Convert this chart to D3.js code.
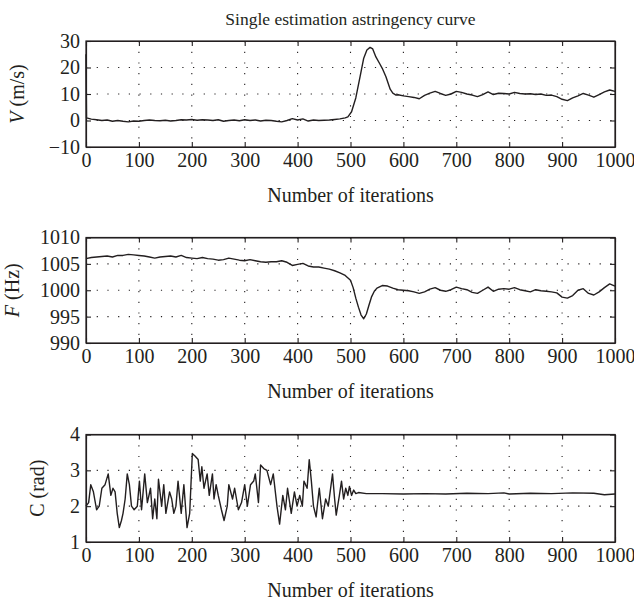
<!DOCTYPE html>
<html>
<head>
<meta charset="utf-8">
<script src="https://cdn.jsdelivr.net/npm/d3@7"></script>
<style>
	body { margin: 0; background: #fff; }
	text { font-family: "Liberation Serif", "DejaVu Serif", serif; fill: #231f20; }
</style>
</head>
<body>
<div id="chart"></div>
<script>

// x ticks shared by the three panels
var iterTicks = [0, 100, 200, 300, 400, 500, 600, 700, 800, 900, 1000];

// V panel (velocity estimate)
var vTicks = [-10, 0, 10, 20, 30];
var vIter = [0, 1, 10, 20, 30, 40, 50, 60, 70, 80, 90, 100, 110, 120, 130, 140, 150, 160, 170, 180,
	190, 200, 210, 220, 230, 240, 250, 260, 270, 280, 290, 300, 310, 320, 330, 340, 350, 360, 370, 380,
	390, 400, 410, 420, 430, 440, 450, 460, 470, 480, 490, 495, 502, 510, 518, 525, 531, 537, 542, 548,
	555, 560, 567, 575, 580, 586, 590, 600, 610, 620, 630, 640, 650, 660, 670, 680, 690, 700, 710, 720,
	730, 740, 750, 760, 770, 780, 790, 800, 810, 820, 830, 840, 850, 860, 870, 880, 890, 900, 910, 920,
	930, 940, 950, 960, 970, 980, 990, 1000];
var vValues = [25, 1.0, 0.5, 0.3, 0.0, 0.2, -0.3, 0.0, -0.3, -0.5, -0.2, -0.3, 0.0, 0.2, 0.0, -0.1, 0.1, -0.2, 0.0, 0.3,
	0.2, 0.4, 0.1, 0.3, 0.2, 0.0, 0.3, -0.3, 0.0, 0.2, -0.1, 0.3, 0.0, 0.2, -0.2, 0.1, 0.0, -0.3, -0.5, 0.0,
	0.7, 0.2, 0.6, -0.2, 0.2, 0.0, 0.1, 0.2, 0.4, 0.6, 1.0, 1.4, 3.3, 8.5, 16.5, 23.5, 26.6, 27.6, 27.0, 24.0,
	21.5, 19.7, 16.5, 11.8, 10.3, 9.6, 9.7, 9.3, 9.0, 8.7, 8.2, 9.5, 10.3, 11.0, 10.2, 9.5, 10.0, 11.0, 10.6, 10.0,
	9.6, 9.0, 9.8, 10.8, 9.8, 10.3, 10.2, 10.0, 10.6, 10.2, 10.0, 10.1, 9.8, 10.0, 9.5, 9.6, 9.0, 8.0, 7.5, 8.5,
	9.3, 10.2, 9.6, 8.8, 9.8, 10.8, 11.5, 11.0];

// F panel (frequency estimate)
var fTicks = [990, 995, 1000, 1005, 1010];
var fIter = [0, 10, 20, 30, 40, 50, 60, 70, 80, 90, 100, 110, 120, 130, 140, 150, 160, 170, 180, 190,
	200, 210, 220, 230, 240, 250, 260, 270, 280, 290, 300, 310, 320, 330, 340, 350, 360, 370, 380, 390,
	400, 410, 420, 430, 440, 450, 460, 470, 480, 490, 500, 505, 510, 515, 520, 525, 530, 535, 540, 545,
	550, 560, 570, 580, 590, 600, 610, 620, 630, 640, 650, 660, 670, 680, 690, 700, 710, 720, 730, 740,
	750, 760, 770, 780, 790, 800, 810, 820, 830, 840, 850, 860, 870, 880, 890, 900, 910, 920, 930, 940,
	950, 960, 970, 980, 990, 1000];
var fValues = [1006.0, 1006.2, 1006.3, 1006.4, 1006.5, 1006.3, 1006.6, 1006.6, 1006.8, 1006.7, 1006.6, 1006.5, 1006.3, 1006.1, 1006.3, 1006.4, 1006.5, 1006.3, 1006.6, 1006.2,
	1006.1, 1006.0, 1006.2, 1006.0, 1005.9, 1005.7, 1005.8, 1006.1, 1005.9, 1005.7, 1005.6, 1005.8, 1005.6, 1005.4, 1005.3, 1005.4, 1005.4, 1005.6, 1005.3, 1004.7,
	1004.9, 1005.1, 1004.6, 1004.4, 1004.4, 1004.2, 1004.0, 1003.7, 1003.3, 1002.8, 1001.9, 1000.5, 998.5, 996.8, 995.3, 994.6, 995.5, 997.2, 998.8, 999.8,
	1000.4, 1000.9, 1000.8, 1000.4, 1000.1, 1000.0, 999.9, 999.7, 999.4, 999.7, 1000.2, 1000.5, 1000.0, 999.8, 1000.1, 1000.6, 1000.3, 1000.1, 999.6, 999.4,
	1000.0, 1000.6, 999.8, 1000.2, 1000.3, 1000.2, 1000.5, 1000.1, 999.9, 999.7, 1000.1, 999.9, 999.8, 999.7, 999.5, 998.7, 998.5, 999.0, 1000.0, 1000.3,
	999.4, 999.1, 999.7, 1000.5, 1001.2, 1000.8];

// C panel (phase estimate)
var cTicks = [1, 2, 3, 4];
var cIter = [0, 5, 9, 14, 20, 25, 30, 36, 42, 47, 51, 55, 59, 63, 67, 70, 74, 78, 82, 86,
	91, 97, 101, 105, 111, 116, 122, 126, 130, 134, 137, 143, 147, 151, 158, 162, 166, 170, 174, 180,
	185, 191, 196, 201, 206, 212, 216, 219, 223, 229, 233, 239, 242, 246, 250, 256, 261, 267, 270, 277,
	281, 288, 294, 300, 305, 311, 317, 320, 326, 330, 336, 342, 349, 354, 361, 366, 372, 377, 381, 388,
	394, 399, 404, 409, 412, 418, 422, 426, 430, 435, 441, 447, 453, 458, 466, 470, 473, 479, 483, 487,
	491, 495, 498, 502, 506, 510, 515, 530, 560, 600, 640, 680, 720, 760, 790, 800, 840, 880, 920, 960,
	980, 1000];
var cValues = [2.0, 2.1, 2.6, 2.4, 1.9, 2.0, 2.5, 2.6, 2.9, 2.3, 2.5, 2.4, 1.8, 1.4, 1.6, 1.8, 2.2, 2.9, 2.6, 2.0,
	1.9, 2.0, 2.7, 1.9, 2.9, 2.1, 2.5, 1.65, 2.2, 1.65, 2.75, 2.0, 2.6, 1.8, 2.4, 2.2, 1.8, 2.0, 2.7, 1.8,
	2.6, 1.4, 1.8, 3.47, 3.4, 3.3, 2.7, 3.1, 2.5, 2.9, 2.3, 2.9, 2.2, 2.6, 2.3, 1.9, 1.6, 2.0, 2.6, 2.2,
	2.5, 1.9, 2.1, 2.6, 2.0, 2.6, 2.7, 2.9, 2.1, 3.15, 3.05, 3.0, 2.6, 2.9, 2.0, 1.5, 2.3, 1.9, 2.5, 1.8,
	2.4, 2.0, 2.3, 2.0, 2.7, 2.5, 3.3, 2.7, 2.0, 1.7, 2.5, 1.65, 2.2, 2.0, 2.9, 2.2, 1.75, 2.3, 2.7, 2.2,
	2.5, 2.3, 2.55, 2.3, 2.45, 2.35, 2.38, 2.35, 2.35, 2.34, 2.35, 2.34, 2.36, 2.35, 2.37, 2.34, 2.36, 2.35, 2.37, 2.36,
	2.32, 2.34];

var width = 634, height = 603;
var plotLeft = 86, plotRight = 615;
var ink = "#231f20";

var svg = d3.select("#chart").append("svg")
	.attr("width", width)
	.attr("height", height);

var x = d3.scaleLinear().domain([0, 1000]).range([plotLeft, plotRight]);

svg.append("text")
	.attr("x", (plotLeft + plotRight) / 2)
	.attr("y", 25)
	.attr("text-anchor", "middle")
	.style("font-size", "17.5px")
	.text("Single estimation astringency curve");

/* draw one panel: box, dotted grid, inner ticks, labels and the curve */
function drawPanel(cfg)
{
	var y = d3.scaleLinear().domain(cfg.domain).range([cfg.bottom, cfg.top]);
	var g = svg.append("g");

	// dotted grid on inner ticks
	g.selectAll("line.gx").data(iterTicks.slice(1, -1)).enter().append("line")
		.attr("x1", function (d) { return x(d); }).attr("x2", function (d) { return x(d); })
		.attr("y1", cfg.top).attr("y2", cfg.bottom)
		.attr("stroke", ink).attr("stroke-width", 1.1)
		.attr("stroke-dasharray", "1.2,9.5");
	g.selectAll("line.gy").data(cfg.ticks.slice(1, -1)).enter().append("line")
		.attr("y1", function (d) { return y(d); }).attr("y2", function (d) { return y(d); })
		.attr("x1", plotLeft).attr("x2", plotRight)
		.attr("stroke", ink).attr("stroke-width", 1.1)
		.attr("stroke-dasharray", "1.2,9.5");

	// axes with ticks pointing inward
	var tickLen = 5;
	g.append("g").attr("transform", "translate(0," + cfg.bottom + ")")
		.call(d3.axisBottom(x).tickValues(iterTicks).tickSizeInner(-tickLen).tickSizeOuter(0).tickPadding(6)
			.tickFormat(d3.format("d")));
	g.append("g").attr("transform", "translate(0," + cfg.top + ")")
		.call(d3.axisTop(x).tickValues(iterTicks).tickSizeInner(-tickLen).tickSizeOuter(0).tickFormat(""));
	g.append("g").attr("transform", "translate(" + plotLeft + ",0)")
		.call(d3.axisLeft(y).tickValues(cfg.ticks).tickSizeInner(-tickLen).tickSizeOuter(0).tickPadding(6)
			.tickFormat(function (d) { return d < 0 ? "\u2212" + Math.abs(d) : d; }));
	g.append("g").attr("transform", "translate(" + plotRight + ",0)")
		.call(d3.axisRight(y).tickValues(cfg.ticks).tickSizeInner(-tickLen).tickSizeOuter(0).tickFormat(""));

	g.selectAll(".domain").attr("stroke", ink).attr("stroke-width", 1.2);
	g.selectAll(".tick line").attr("stroke", ink).attr("stroke-width", 1.1);
	g.selectAll(".tick text")
		.style("font-family", "'Liberation Serif', serif")
		.style("font-size", "20px")
		.attr("fill", ink);

	g.append("rect")
		.attr("x", plotLeft).attr("y", cfg.top)
		.attr("width", plotRight - plotLeft).attr("height", cfg.bottom - cfg.top)
		.attr("fill", "none").attr("stroke", ink).attr("stroke-width", 1.2);

	var line = d3.line()
		.x(function (d, i) { return x(cfg.iter[i]); })
		.y(function (d) { return y(d); });

	g.append("path")
		.datum(cfg.values)
		.attr("d", line)
		.attr("fill", "none")
		.attr("stroke", ink)
		.attr("stroke-width", 1.4)
		.attr("stroke-linejoin", "round");

	// x label
	g.append("text")
		.attr("x", (plotLeft + plotRight) / 2)
		.attr("y", cfg.bottom + 55)
		.attr("text-anchor", "middle")
		.style("font-size", "20px")
		.text("Number of iterations");

	// y label (rotated)
	var yl = g.append("text")
		.attr("transform", "translate(" + cfg.labelX + "," + (cfg.top + cfg.bottom) / 2 + ") rotate(-90)")
		.attr("text-anchor", "middle")
		.style("font-size", "20px");
	yl.append("tspan").style("font-style", cfg.italic ? "italic" : "normal").text(cfg.sym);
	yl.append("tspan").text(" " + cfg.unit);
}

drawPanel({ domain: [-10, 30], ticks: vTicks, top: 41, bottom: 147, iter: vIter, values: vValues,
	sym: "V", unit: "(m/s)", italic: true, labelX: 24 });
drawPanel({ domain: [990, 1010], ticks: fTicks, top: 237.5, bottom: 343, iter: fIter, values: fValues,
	sym: "F", unit: "(Hz)", italic: true, labelX: 19 });
drawPanel({ domain: [1, 4], ticks: cTicks, top: 434.5, bottom: 542, iter: cIter, values: cValues,
	sym: "C", unit: "(rad)", italic: false, labelX: 44 });

</script>
</body>
</html>
